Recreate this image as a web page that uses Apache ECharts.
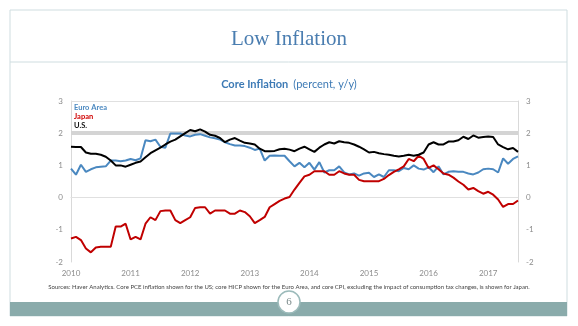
<!DOCTYPE html>
<html><head><meta charset="utf-8">
<script src="https://cdn.jsdelivr.net/npm/echarts@6/dist/echarts.min.js"></script>
<style>html,body{margin:0;padding:0;background:#fff}#c{width:578px;height:326px}</style>
</head><body><div id="c"></div>
<script>
const years = ['2010','2011','2012','2013','2014','2015','2016','2017'];
const monthsInLastYear = 7;
const yTicks = [-2,-1,0,1,2,3];

const euroArea = [0.90,0.71,1.02,0.80,0.88,0.94,0.96,0.97,1.15,1.15,1.13,1.15,
  1.20,1.16,1.22,1.78,1.75,1.80,1.58,1.55,1.99,1.99,1.99,1.93,
  1.90,1.95,1.97,1.92,1.87,1.84,1.80,1.72,1.66,1.62,1.62,1.60,
  1.55,1.48,1.52,1.15,1.30,1.31,1.30,1.30,1.13,0.97,1.08,0.94,
  1.08,0.87,1.10,0.78,0.85,0.85,0.97,0.78,0.72,0.75,0.68,0.75,
  0.77,0.64,0.72,0.64,0.85,0.85,0.82,0.92,0.88,1.00,0.90,0.87,
  0.94,0.79,0.97,0.72,0.80,0.82,0.80,0.80,0.75,0.72,0.78,0.88,
  0.90,0.88,0.78,1.22,1.05,1.20,1.28];
const japan = [-1.27,-1.22,-1.32,-1.58,-1.70,-1.55,-1.53,-1.53,-1.53,-0.90,-0.90,-0.81,
  -1.30,-1.22,-1.30,-0.81,-0.61,-0.70,-0.42,-0.40,-0.40,-0.70,-0.79,-0.70,
  -0.61,-0.32,-0.30,-0.30,-0.50,-0.40,-0.40,-0.40,-0.50,-0.50,-0.40,-0.45,
  -0.58,-0.79,-0.70,-0.60,-0.30,-0.20,-0.10,-0.03,0.02,0.25,0.46,0.66,
  0.71,0.82,0.82,0.82,0.71,0.71,0.82,0.75,0.71,0.71,0.55,0.51,
  0.51,0.51,0.51,0.58,0.70,0.80,0.88,0.97,1.20,1.13,1.30,1.20,
  0.92,1.00,0.88,0.75,0.71,0.62,0.50,0.40,0.25,0.30,0.20,0.12,
  0.18,0.09,-0.06,-0.29,-0.20,-0.20,-0.09];
const us = [1.58,1.57,1.57,1.40,1.36,1.36,1.33,1.27,1.15,1.00,1.00,0.96,
  1.02,1.08,1.12,1.25,1.38,1.47,1.55,1.65,1.74,1.80,1.90,2.00,
  2.10,2.06,2.12,2.05,1.95,1.92,1.85,1.72,1.80,1.85,1.77,1.70,
  1.68,1.65,1.52,1.44,1.44,1.45,1.50,1.52,1.49,1.44,1.52,1.58,
  1.50,1.42,1.55,1.65,1.72,1.68,1.75,1.72,1.70,1.65,1.58,1.50,
  1.40,1.42,1.38,1.35,1.33,1.30,1.28,1.30,1.33,1.30,1.33,1.40,
  1.65,1.72,1.65,1.65,1.74,1.74,1.78,1.89,1.82,1.93,1.86,1.88,
  1.90,1.88,1.65,1.57,1.50,1.54,1.42];
const targetLevel = 2;

const months = [];
years.forEach((y, i) => {
  const n = i === years.length - 1 ? monthsInLastYear : 12;
  for (let m = 1; m <= n; m++) months.push(y + '-' + String(m).padStart(2, '0'));
});

const chart = echarts.init(document.getElementById('c'), null, {renderer: 'canvas'});
const sans = 'Lato, "Open Sans", sans-serif';
const axisLabelStyle = {color: '#8c8c8c', fontSize: 8, fontFamily: sans};
const yAxisBase = {
  type: 'value', min: yTicks[0], max: yTicks[yTicks.length - 1], interval: 1,
  axisLine: {show: true, lineStyle: {color: '#d9d9d9', width: 1}},
  axisTick: {show: false}, splitLine: {show: false}
};
chart.setOption({
  animation: false,
  backgroundColor: '#fff',
  title: [{
    text: 'Low Inflation', left: 'center', top: 24,
    textStyle: {fontFamily: '"Liberation Serif", "DejaVu Serif", serif', fontWeight: 'normal', fontSize: 21, color: '#4a7db0'}
  }, {
    text: '{b|Core Inflation} {n|(percent, y/y)}', left: 'center', top: 70,
    textStyle: {fontWeight: 'normal', rich: {
      b: {fontFamily: sans, fontWeight: 'bold', fontSize: 11, color: '#3d7ab5'},
      n: {fontFamily: sans, fontWeight: 'normal', fontSize: 11, color: '#3d7ab5'}
    }}
  }],
  grid: {left: 71, right: 60, top: 101, bottom: 64},
  xAxis: {
    type: 'category', data: months, boundaryGap: false,
    axisLine: {show: true, lineStyle: {color: '#d9d9d9'}},
    axisTick: {show: false},
    axisLabel: Object.assign({}, axisLabelStyle, {
      interval: (i) => i % 12 === 0, formatter: (v) => v.slice(0, 4), margin: 7
    }),
    splitLine: {show: false}
  },
  yAxis: [
    Object.assign({}, yAxisBase, {position: 'left', axisLabel: Object.assign({}, axisLabelStyle, {margin: 8})}),
    Object.assign({}, yAxisBase, {position: 'right', axisLabel: Object.assign({}, axisLabelStyle, {margin: 8})})
  ],
  series: [{
    name: 'Euro Area', type: 'line', data: euroArea, symbol: 'none',
    lineStyle: {color: '#4a88c0', width: 2}, z: 3,
    markLine: {
      silent: true, symbol: 'none', label: {show: false}, animation: false,
      data: [
        {yAxis: targetLevel, lineStyle: {color: '#d4d4d4', width: 4, type: 'solid'}},
        {yAxis: 0, lineStyle: {color: '#e0e0e0', width: 1, type: 'solid'}},
        {yAxis: yTicks[yTicks.length - 1], lineStyle: {color: '#e0e0e0', width: 1, type: 'solid'}}
      ],
      z: 1
    }
  }, {
    name: 'Japan', type: 'line', data: japan, symbol: 'none',
    lineStyle: {color: '#c00000', width: 2}, z: 4
  }, {
    name: 'U.S.', type: 'line', data: us, symbol: 'none',
    lineStyle: {color: '#000000', width: 2}, z: 5
  }],
  graphic: [
    {type: 'rect', shape: {x: 10, y: 10, width: 557, height: 306}, style: {fill: 'none', stroke: '#cfdde0', lineWidth: 1}, z: -1},
    {type: 'line', shape: {x1: 10, y1: 62, x2: 567, y2: 62}, style: {stroke: '#cfdde0', lineWidth: 1}},
    {type: 'rect', shape: {x: 10, y: 302, width: 557, height: 14}, style: {fill: '#8aabab'}},
    {type: 'circle', shape: {cx: 289, cy: 302, r: 11}, style: {fill: '#fff', stroke: '#9bbaba', lineWidth: 1.5}},
    {type: 'text', x: 289, y: 302, style: {text: '6', fill: '#7a8a8a', font: '11px "Liberation Serif", serif', align: 'center', verticalAlign: 'middle'}},
    {type: 'text', x: 74, y: 104, style: {text: 'Euro Area', fill: '#4a88c0', font: 'bold 7.5px ' + sans}},
    {type: 'text', x: 74, y: 113, style: {text: 'Japan', fill: '#d00000', font: 'bold 7.5px ' + sans}},
    {type: 'text', x: 74, y: 122, style: {text: 'U.S.', fill: '#111', font: 'bold 7.5px ' + sans}},
    {type: 'text', x: 289, y: 287, style: {text: 'Sources: Haver Analytics. Core PCE inflation shown for the US; core HICP shown for the Euro Area, and core CPI, excluding the impact of consumption tax changes, is shown for Japan.', fill: '#444', font: '6px ' + sans, align: 'center', verticalAlign: 'middle'}}
  ]
});
</script></body></html>
